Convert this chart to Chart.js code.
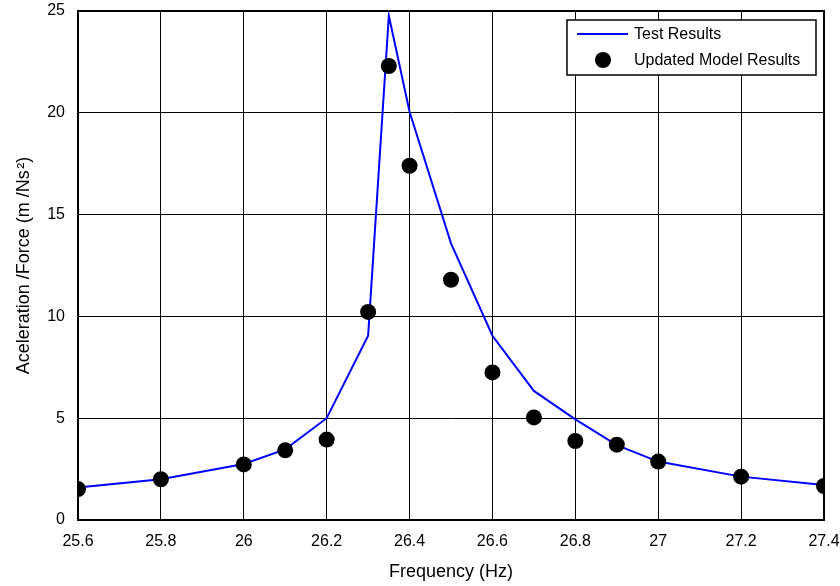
<!DOCTYPE html>
<html>
<head>
<meta charset="utf-8">
<script src="https://cdn.jsdelivr.net/npm/chart.js@4"></script>
<style>
  body { margin: 0; background: #fff; }
  canvas { display: block; }
</style>
</head>
<body>
<canvas id="frfChart" width="840" height="586"></canvas>
<script>
// frequency points (Hz)
const freqs = [25.6, 25.8, 26.0, 26.1, 26.2, 26.3, 26.35, 26.4, 26.5, 26.6, 26.7, 26.8, 26.9, 27.0, 27.2, 27.4];
// measured FRF amplitude
const testResults = [1.59, 2.0, 2.75, 3.47, 5.0, 9.05, 24.77, 20.05, 13.59, 9.05, 6.34, 4.94, 3.68, 2.87, 2.13, 1.72];
// amplitude from the updated FE model
const modelResults = [1.52, 2.0, 2.73, 3.42, 3.95, 10.22, 22.3, 17.4, 11.8, 7.25, 5.04, 3.88, 3.70, 2.87, 2.13, 1.67];

const seriesNames = ["Test Results", "Updated Model Results"];
const fontFamily = "'Liberation Sans', Arial, sans-serif";

function toPoints(xs, ys) {
    return xs.map((x, i) => ({x: x, y: ys[i]}));
}

// frame around the plot area plus the boxed legend in the top right corner
const frameAndLegend = {
    id: "frameAndLegend",
    afterDatasetsDraw(chart) {
        const ctx = chart.ctx;
        const a = chart.chartArea;
        ctx.save();
        ctx.strokeStyle = "#000";
        ctx.lineWidth = 2;
        ctx.strokeRect(a.left, a.top, a.right - a.left, a.bottom - a.top);

        var bx = 567, by = 20, bw = 249, bh = 55;
        ctx.fillStyle = "#fff";
        ctx.fillRect(bx, by, bw, bh);
        ctx.lineWidth = 1.5;
        ctx.strokeRect(bx, by, bw, bh);

        ctx.strokeStyle = "#0000ff";
        ctx.lineWidth = 2;
        ctx.beginPath();
        ctx.moveTo(577, 34);
        ctx.lineTo(628, 34);
        ctx.stroke();

        ctx.fillStyle = "#000";
        ctx.beginPath();
        ctx.arc(603, 60, 8, 0, Math.PI * 2);
        ctx.fill();

        ctx.font = "16px " + fontFamily;
        ctx.textBaseline = "middle";
        ctx.fillText(seriesNames[0], 634, 35);
        ctx.fillText(seriesNames[1], 634, 61);
        ctx.restore();
    }
};

var frfChart = new Chart("frfChart", {
    type: "scatter",
    data: {
        datasets: [{
            label: seriesNames[1],
            data: toPoints(freqs, modelResults),
            showLine: false,
            pointRadius: 8,
            pointBackgroundColor: "#000",
            pointBorderColor: "#000",
            pointBorderWidth: 0,
            order: 0
        }, {
            label: seriesNames[0],
            data: toPoints(freqs, testResults),
            showLine: true,
            borderColor: "#0000ff",
            borderWidth: 2,
            pointRadius: 0,
            fill: false,
            tension: 0,
            order: 1
        }]
    },
    options: {
        responsive: false,
        animation: false,
        layout: {padding: {top: 11, right: 16, left: 0, bottom: 0}},
        plugins: {
            legend: {display: false},
            tooltip: {enabled: false}
        },
        scales: {
            x: {
                type: "linear",
                min: 25.6,
                max: 27.4,
                afterFit: (scale) => {
                    scale.height = 66;
                    // let the end labels hang over the canvas padding
                    scale.paddingLeft = 0;
                    scale.paddingRight = 0;
                },
                ticks: {
                    stepSize: 0.2,
                    padding: 12,
                    color: "#000",
                    font: {family: fontFamily, size: 16},
                    maxRotation: 0,
                    callback: (v) => String(Number(v.toFixed(1)))
                },
                grid: {color: "#000", lineWidth: 1, drawTicks: false},
                border: {color: "#000", width: 2},
                title: {
                    display: true,
                    text: "Frequency (Hz)",
                    color: "#000",
                    font: {family: fontFamily, size: 18},
                    padding: {top: 4, bottom: 3}
                }
            },
            y: {
                min: 0,
                max: 25,
                afterFit: (scale) => {
                    scale.width = 78;
                    scale.paddingTop = 0;
                    scale.paddingBottom = 0;
                },
                ticks: {
                    stepSize: 5,
                    padding: 13,
                    color: "#000",
                    font: {family: fontFamily, size: 16}
                },
                grid: {color: "#000", lineWidth: 1, drawTicks: false},
                border: {color: "#000", width: 2},
                title: {
                    display: true,
                    text: "Aceleration /Force (m /Ns\u200a\u00b2)",
                    color: "#000",
                    font: {family: fontFamily, size: 18},
                    padding: {top: 13, bottom: 4}
                }
            }
        }
    },
    plugins: [frameAndLegend]
});
</script>
</body>
</html>
